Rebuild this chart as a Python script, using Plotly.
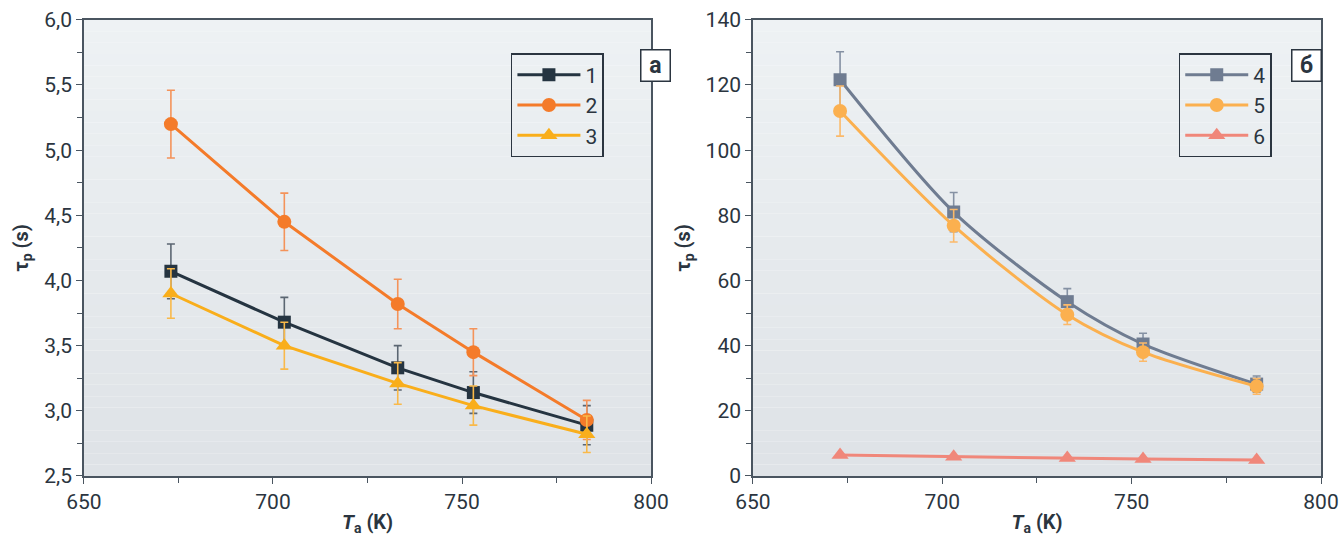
import plotly.graph_objects as go

# температура отжига, K
ta = [673, 703, 733, 753, 783]

# панель а
tau1 = [4.07, 3.68, 3.33, 3.14, 2.89]
err1 = [0.21, 0.19, 0.17, 0.16, 0.15]
tau2 = [5.20, 4.45, 3.82, 3.45, 2.93]
err2 = [0.26, 0.22, 0.19, 0.18, 0.15]
tau3 = [3.90, 3.50, 3.21, 3.04, 2.82]
err3 = [0.19, 0.18, 0.16, 0.15, 0.14]

# панель б
tau4 = [121.6, 81.0, 53.5, 40.5, 28.2]
err4 = [8.6, 6.0, 4.0, 3.3, 2.5]
tau5 = [112.0, 76.8, 49.5, 38.0, 27.5]
err5 = [7.7, 5.0, 3.0, 2.8, 2.4]
tau6 = [6.4, 5.9, 5.5, 5.2, 4.9]

FONT = "Roboto"
INK = "#2b3540"

fig = go.Figure()

def add_series(x, y, err, name, color, ecolor, symbol, size, xa, ya, legend, shape="linear"):
    fig.add_trace(go.Scatter(
        x=x, y=y, name=name, mode="lines+markers",
        line=dict(color=color, width=3, shape=shape, smoothing=0.8),
        marker=dict(symbol=symbol, size=size, color=color),
        error_y=dict(type="data", array=err, visible=err is not None,
                     color=ecolor, thickness=1.6, width=4),
        xaxis=xa, yaxis=ya, legend=legend,
    ))

add_series(ta, tau1, err1, "1", "#253441", "#5b6672", "square", 13, "x", "y", "legend")
add_series(ta, tau2, err2, "2", "#f47b2a", "#f4935a", "circle", 14, "x", "y", "legend")
add_series(ta, tau3, err3, "3", "#f9ae1b", "#f9b94a", "triangle-up", 15, "x", "y", "legend")

add_series(ta, tau4, err4, "4", "#6f7c91", "#8591a3", "square", 13, "x2", "y2", "legend2", "spline")
add_series(ta, tau5, err5, "5", "#fbb04f", "#fbb96a", "circle", 14, "x2", "y2", "legend2", "spline")
add_series(ta, tau6, None, "6", "#f0877a", "#f0877a", "triangle-up", 15, "x2", "y2", "legend2")

# градиентный фон областей построения
n = 40
for xr, yr in [("x domain", "y domain"), ("x2 domain", "y2 domain")]:
    for i in range(n):
        t = i / (n - 1)
        c0, c1 = (223, 227, 231), (238, 242, 244)
        c = tuple(int(a + (b - a) * t) for a, b in zip(c0, c1))
        fig.add_shape(type="rect", xref=xr, yref=yr, x0=0, x1=1,
                      y0=i / n, y1=(i + 1) / n, layer="below",
                      line_width=0, fillcolor="rgb(%d,%d,%d)" % c)

axis_common = dict(
    showline=True, linecolor="#4a5560", linewidth=1.5, mirror=True,
    ticks="outside", ticklen=6, tickwidth=1.2, tickcolor="#4a5560",
    showgrid=False, zeroline=False, automargin=False,
    tickfont=dict(family=FONT, size=21, color=INK),
    title_font=dict(family=FONT, size=20, color=INK),
)

xt = "<b><i>T</i><sub>a</sub> (K)</b>"
yt = "<b>τ<sub>p</sub> (s)</b>"

legend_common = dict(
    y=0.901, xanchor="left", yanchor="top",
    bordercolor=INK, borderwidth=1.5, bgcolor="rgba(0,0,0,0)",
    font=dict(family=FONT, size=21, color=INK), itemwidth=63,
)

fig.update_layout(
    width=1341, height=536,
    margin=dict(l=0, r=0, t=0, b=0, autoexpand=False),
    paper_bgcolor="white", plot_bgcolor="rgba(0,0,0,0)",
    separators=", ",
    font=dict(family=FONT, color=INK),
    xaxis=dict(domain=[0.0626, 0.4855], range=[650, 800], dtick=50,
               minor=dict(dtick=25, ticks="outside", ticklen=5, tickcolor="#4a5560"),
               anchor="y", title=dict(text=xt, standoff=4), **axis_common),
    yaxis=dict(domain=[0.112, 0.963], range=[2.5, 6.0], dtick=0.5, tickformat=".1f",
               minor=dict(dtick=0.25, ticks="outside", ticklen=5, tickcolor="#4a5560"),
               anchor="x", title=dict(text=yt, standoff=10), **axis_common),
    xaxis2=dict(domain=[0.5615, 0.9851], range=[650, 800], dtick=50,
                minor=dict(dtick=25, ticks="outside", ticklen=5, tickcolor="#4a5560"),
                anchor="y2", title=dict(text=xt, standoff=4), **axis_common),
    yaxis2=dict(domain=[0.112, 0.963], range=[0, 140], dtick=20,
                minor=dict(dtick=10, ticks="outside", ticklen=5, tickcolor="#4a5560"),
                anchor="x2", title=dict(text=yt, standoff=10), **axis_common),
    legend=dict(x=0.381, **legend_common),
    legend2=dict(x=0.879, **legend_common),
)

for lbl, px in [("а", 0.489), ("б", 0.9858)]:
    fig.add_annotation(text="<b>%s</b>" % lbl, xref="paper", yref="paper",
                       x=px, y=0.9086, showarrow=False,
                       font=dict(family=FONT, size=23, color=INK),
                       bgcolor="white", bordercolor=INK, borderwidth=1.5,
                       width=26, height=28, borderpad=1)

# убрать стандартный отступ body, чтобы рисунок занял всё окно
fig.write_html("out.html", config={"displayModeBar": False},
               post_script="document.body.style.margin='0';")
